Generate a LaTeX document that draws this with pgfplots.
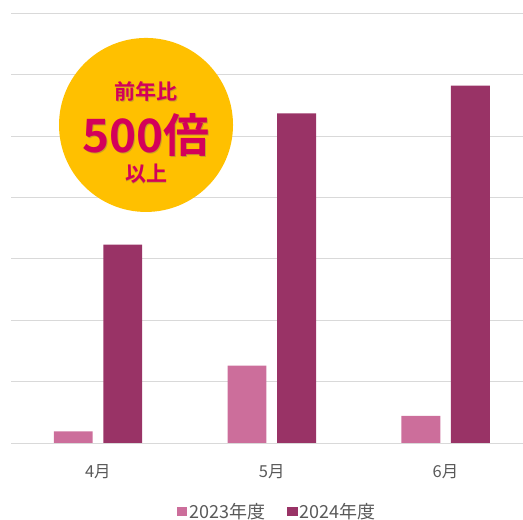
\documentclass[border=0pt]{standalone}
\usepackage{fontspec}
\setmainfont{Noto Sans CJK JP}
\newfontfamily\cjkbold[BoldFont={Noto Sans CJK JP Bold}]{Noto Sans CJK JP}
\usepackage{pgfplots}
\pgfplotsset{compat=1.18}
\definecolor{c23}{RGB}{204,110,155}
\definecolor{c24}{RGB}{153,51,102}
\definecolor{gridc}{RGB}{217,217,217}
\definecolor{txtc}{RGB}{89,89,89}
\definecolor{gold}{RGB}{255,192,0}
\definecolor{crim}{RGB}{212,0,90}
\begin{document}
\begin{tikzpicture}[x=1pt,y=1pt]
\path[use as bounding box] (0,0) rectangle (523,520);
\begin{axis}[
  at={(11pt,77pt)}, anchor=south west,
  scale only axis, width=512pt, height=429.8pt,
  xmin=-0.5, xmax=2.446, ymin=0, ymax=7,
  axis line style={draw=none},
  ymajorgrids, ytick={0,1,2,3,4,5,6,7}, yticklabels={},
  grid style={gridc, line width=0.9pt},
  xtick={0,1,2},
  xticklabels={{\fontsize{16.5}{16.5}\selectfont 4月},{\fontsize{16.5}{16.5}\selectfont 5月},{\fontsize{16.5}{16.5}\selectfont 6月}},
  /pgf/number format/assume math mode=true,
  major tick length=0pt, tick style={draw=none},
  xticklabel style={font=\fontsize{16.5}{16.5}\selectfont, text=txtc, anchor=center, yshift=-28.5pt},
  ybar, bar width=0.224,
  legend style={at={(0.52,-0.16)}, anchor=center, draw=none, fill=none,
    font=\fontsize{18}{18}\selectfont, text=txtc, legend columns=2,
    /tikz/every even column/.append style={column sep=20pt}},
  legend image code/.code={\fill[#1] (-3pt,-4.5pt) rectangle (7.5pt,5pt);},
  clip=false,
]
\addplot[fill=c23, draw=none, bar shift=-0.142] coordinates {(0,0.19) (1,1.26) (2,0.44)};
\addplot[fill=c24, draw=none, bar shift=0.143] coordinates {(0,3.23) (1,5.37) (2,5.82)};
\legend{2023年度,2024年度}
\node[circle, fill=gold, minimum size=174pt, inner sep=0pt] at (axis description cs:0.2637,0.740) {};
\node[text=black!60, opacity=0.35, font=\cjkbold\bfseries\fontsize{21}{21}\selectfont] at ([xshift=0.8pt,yshift=-0.8pt]axis description cs:0.2637,0.818) {前年比};
\node[text=crim, font=\cjkbold\bfseries\fontsize{21}{21}\selectfont] at (axis description cs:0.2637,0.818) {前年比};
\node[text=black!60, opacity=0.35, font=\cjkbold\bfseries\fontsize{46}{46}\selectfont] at ([xshift=1pt,yshift=-1pt]axis description cs:0.2637,0.717) {500倍};
\node[text=crim, font=\cjkbold\bfseries\fontsize{46}{46}\selectfont] at (axis description cs:0.2637,0.717) {500倍};
\node[text=black!60, opacity=0.35, font=\cjkbold\bfseries\fontsize{21}{21}\selectfont] at ([xshift=0.8pt,yshift=-0.8pt]axis description cs:0.2637,0.626) {以上};
\node[text=crim, font=\cjkbold\bfseries\fontsize{21}{21}\selectfont] at (axis description cs:0.2637,0.626) {以上};
\end{axis}
\end{tikzpicture}
\end{document}
